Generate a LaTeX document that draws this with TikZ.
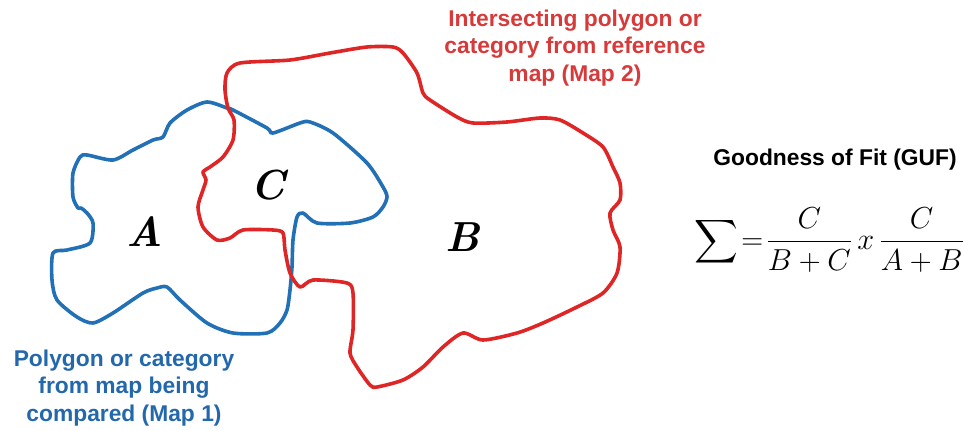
\documentclass[tikz,border=0pt]{standalone}
\usepackage{amsmath}
\usepackage{graphicx}
\usepackage{fontspec}
\newfontfamily\arialfont{Liberation Sans}
\definecolor{mapblue}{RGB}{34,112,182}
\definecolor{mapred}{RGB}{222,38,38}
\definecolor{txtblue}{RGB}{36,104,172}
\definecolor{txtred}{RGB}{214,58,58}
\begin{document}
\begin{tikzpicture}[x=1pt,y=-1pt,
  outline/.style={line width=3.6pt,line join=round,line cap=round},
  caption/.style={font=\arialfont\bfseries\fontsize{22.8}{27.5}\selectfont,align=center,inner sep=0pt},
  region/.style={font=\fontsize{42}{48}\selectfont\bfseries\itshape,inner sep=0pt}]
\useasboundingbox (0,0) rectangle (964,431);
% blue polygon (Map 1)
\draw[outline,mapblue] plot[smooth cycle,tension=0.45] coordinates {
 (207,102) (227,108) (233,110) (267,128) (273,133) (300,123) (310,122) (333,133)
 (367,163) (383,187) (387,197) (383,207) (373,217) (350,223) (317,223) (303,213)
 (297,217) (293,240) (292,267) (290,290) (287,310) (280,323) (267,333) (233,333)
 (207,323) (180,300) (167,287) (157,288) (143,293) (113,313) (93,323) (77,317)
 (57,300) (52,280) (53,253) (67,250) (90,243) (93,223) (87,213) (81,208) (78,208)
 (73,197) (73,173) (80,157) (87,155) (113,160) (133,150) (153,140) (163,137)
 (170,123) (187,110)};
% red polygon (Map 2)
\draw[outline,mapred] plot[smooth cycle,tension=0.45] coordinates {
 (227,73) (240,63) (290,60) (330,53) (367,47) (393,47) (403,53) (417,73)
 (423,93) (430,100) (457,117) (473,123) (507,122) (540,118) (560,120) (583,133)
 (603,147) (613,167) (620,183) (620,200) (610,213) (613,230) (620,247) (617,273)
 (603,293) (577,307) (543,323) (517,333) (483,340) (463,333) (443,347) (423,367)
 (403,380) (377,387) (370,385) (357,367) (350,353) (353,330) (353,293) (347,283)
 (313,280) (300,287) (290,273) (285,250) (283,233) (273,230) (243,230) (230,238)
 (217,240) (203,227) (198,207) (203,190) (206,180) (203,172) (210,167) (223,157)
 (233,140) (234,120) (228,108) (225,90)};
% region labels
\node[region] (labA) at (145,232) {A};
\node[region] (labC) at (268,185) {C};
\node[region] (labB) at (463,237) {B};
% captions
\node[caption,text=txtred] (capred) at (575,48) {Intersecting polygon or\\category from reference\\map (Map 2)};
\node[caption,text=txtblue] (capblue) at (124,388) {Polygon or category\\from map being\\compared (Map 1)};
\node[caption,text=black] (guf) at (835,160) {Goodness of Fit (GUF)};
% formula
\node[inner sep=0pt] (formula) at (829,240) {\scalebox{1.22}{\fontsize{24.88}{30}\selectfont$\displaystyle \sum\!=\!\frac{C}{B+C}\,x\,\frac{C}{A+B}$}};
\end{tikzpicture}
\end{document}
